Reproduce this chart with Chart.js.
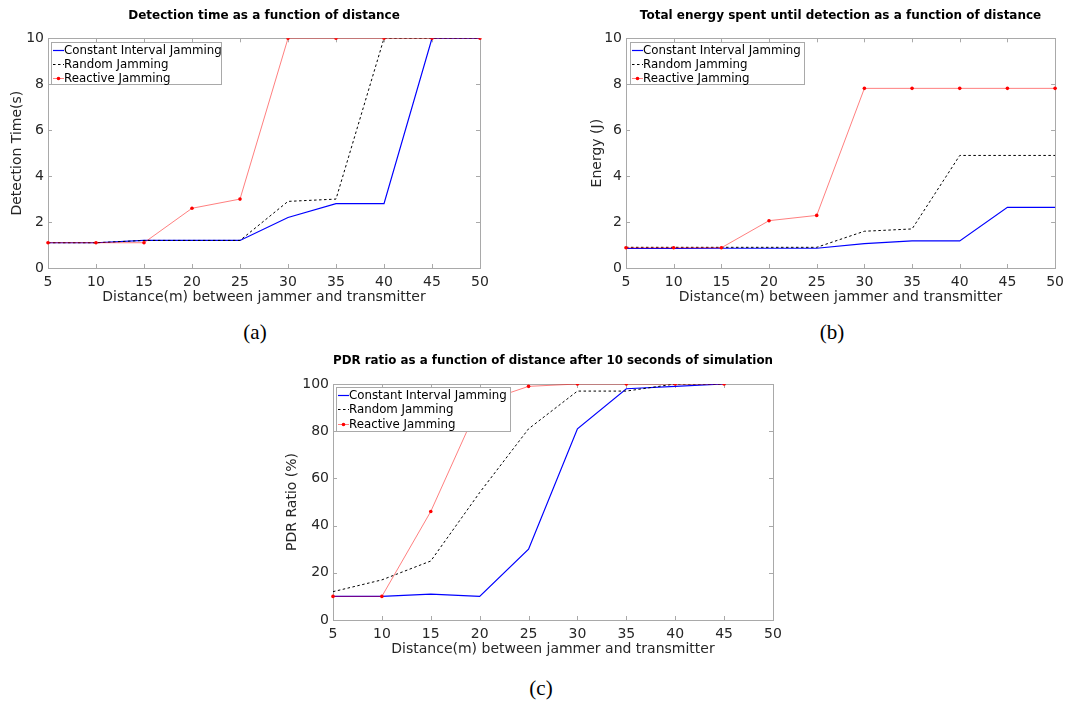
<!DOCTYPE html>
<html>
<head>
<meta charset="utf-8">
<script src="https://cdn.jsdelivr.net/npm/chart.js@4.4.1/dist/chart.umd.min.js"></script>
<style>
body { margin: 0; background: #fff; width: 1070px; height: 702px; position: relative; overflow: hidden; }
canvas { position: absolute; }
.cap { position: absolute; font-family: "Liberation Serif", serif; font-size: 21px; color: #000; transform: translate(-50%, -50%); }
</style>
</head>
<body>
<canvas id="chartA" width="500" height="310" style="left:0px;top:0px"></canvas>
<canvas id="chartB" width="510" height="310" style="left:560px;top:0px"></canvas>
<canvas id="chartC" width="530" height="322" style="left:270px;top:340px"></canvas>
<div class="cap" style="left:255px;top:332px">(a)</div>
<div class="cap" style="left:832px;top:332px">(b)</div>
<div class="cap" style="left:541px;top:688px">(c)</div>
<script>
// -----------------------------
// DATA
// -----------------------------
const distances = [5, 10, 15, 20, 25, 30, 35, 40, 45, 50];
const seriesNames = ["Constant Interval Jamming", "Random Jamming", "Reactive Jamming"];

// (a) detection time (s)
const timeConstant = [1.1, 1.1, 1.2, 1.2, 1.2, 2.2, 2.8, 2.8, 10, 10];
const timeRandom   = [1.1, 1.1, 1.2, 1.2, 1.2, 2.9, 3.0, 10, 10, 10];
const timeReactive = [1.1, 1.1, 1.1, 2.6, 3.0, 10, 10, 10, 10, 10];

// (b) energy (J)
const energyConstant = [0.85, 0.85, 0.86, 0.86, 0.86, 1.06, 1.18, 1.18, 2.64, 2.64];
const energyRandom   = [0.9, 0.9, 0.9, 0.9, 0.9, 1.6, 1.7, 4.9, 4.9, 4.9];
const energyReactive = [0.88, 0.88, 0.88, 2.06, 2.29, 7.82, 7.82, 7.82, 7.82, 7.82];

// (c) PDR ratio (%), measured up to 45 m
const pdrConstant = [10, 10, 11, 10, 30, 81, 98, 99, 100];
const pdrRandom   = [12, 17, 25, 54, 81, 97, 97, 100, 100];
const pdrReactive = [10, 10, 46, 92, 99, 100, 100, 100, 100];

const FONT = "DejaVu Sans";
const AXIS_GRAY = "#a9a9a9";
const TEXT = "#262626";

// box around the axes plus inward tick marks (matlab style)
const frame = {
    id: "frame",
    beforeDatasetsDraw(chart) {
        const { ctx, chartArea: a, scales } = chart;
        const x = scales.x, y = scales.y;
        ctx.save();
        ctx.strokeStyle = AXIS_GRAY;
        ctx.lineWidth = 1;
        ctx.beginPath();
        x.ticks.forEach((t, i) => {
            const px = Math.round(x.getPixelForTick(i)) + 0.5;
            ctx.moveTo(px, a.bottom); ctx.lineTo(px, a.bottom - 4);
            ctx.moveTo(px, a.top); ctx.lineTo(px, a.top + 4);
        });
        y.ticks.forEach((t, i) => {
            const py = Math.round(y.getPixelForTick(i)) + 0.5;
            ctx.moveTo(a.left, py); ctx.lineTo(a.left + 4, py);
            ctx.moveTo(a.right, py); ctx.lineTo(a.right - 4, py);
        });
        ctx.stroke();
        ctx.strokeRect(Math.round(a.left) + 0.5, Math.round(a.top) + 0.5,
            Math.round(a.right - a.left), Math.round(a.bottom - a.top));
        ctx.restore();
    }
};

// legend box drawn inside the plot, top-left
const boxLegend = {
    id: "boxLegend",
    afterDatasetsDraw(chart, args, opts) {
        const { ctx, chartArea: a } = chart;
        const x = Math.round(a.left + opts.x), y = Math.round(a.top + opts.y);
        ctx.save();
        ctx.fillStyle = "#fff";
        ctx.fillRect(x, y, opts.w, opts.h);
        ctx.strokeStyle = AXIS_GRAY;
        ctx.lineWidth = 1;
        ctx.strokeRect(x + 0.5, y + 0.5, opts.w, opts.h);
        ctx.font = "11.8px '" + FONT + "'";
        ctx.textBaseline = "middle";
        chart.data.datasets.forEach((ds, i) => {
            const ly = Math.round(y + opts.first + i * opts.row) + 0.5;
            ctx.strokeStyle = ds.borderColor;
            ctx.lineWidth = ds.borderWidth;
            ctx.setLineDash(ds.borderDash || []);
            ctx.beginPath();
            ctx.moveTo(x + 2, ly);
            ctx.lineTo(x + 13, ly);
            ctx.stroke();
            ctx.setLineDash([]);
            if (ds.pointRadius) {
                ctx.fillStyle = ds.pointBackgroundColor;
                ctx.beginPath();
                ctx.arc(x + 7.5, ly, ds.pointRadius, 0, Math.PI * 2);
                ctx.fill();
            }
            ctx.fillStyle = "#000";
            ctx.fillText(ds.label, x + 13, ly);
        });
        ctx.restore();
    }
};

function makeDatasets(constant, random, reactive) {
    return [{
        label: seriesNames[0],
        data: constant,
        borderColor: "#0000ff",
        borderWidth: 1.2,
        pointRadius: 0,
        order: 2
    }, {
        label: seriesNames[1],
        data: random,
        borderColor: "#000000",
        borderWidth: 1,
        borderDash: [2.5, 2.5],
        pointRadius: 0,
        order: 1
    }, {
        label: seriesNames[2],
        data: reactive,
        borderColor: "rgba(255,0,0,0.5)",
        borderWidth: 1,
        pointRadius: 1.8,
        pointBackgroundColor: "#ff0000",
        pointBorderWidth: 0,
        order: 0
    }];
}

function makeChart(id, title, yTitle, yMax, yStep, datasets, g) {
    return new Chart(document.getElementById(id), {
        type: "line",
        data: { labels: distances, datasets },
        plugins: [frame, boxLegend],
        options: {
            responsive: false,
            animation: false,
            devicePixelRatio: 1,
            layout: { padding: { left: 0, right: g.padRight, top: 0, bottom: 0 } },
            plugins: {
                legend: { display: false },
                tooltip: { enabled: false },
                title: {
                    display: true,
                    text: title,
                    fullSize: false,
                    color: "#000",
                    font: { family: FONT, size: 12, weight: "bold" },
                    padding: { top: g.titleTop, bottom: g.titleBottom }
                },
                boxLegend: g.legend
            },
            scales: {
                x: {
                    type: "category",
                    grid: { display: false, drawTicks: false },
                    border: { display: false },
                    ticks: { color: TEXT, font: { family: FONT, size: 14 }, padding: 6, maxRotation: 0, autoSkip: false },
                    title: {
                        display: true,
                        text: "Distance(m) between jammer and transmitter",
                        color: TEXT,
                        font: { family: FONT, size: 14 },
                        padding: { top: 0, bottom: 4 }
                    },
                    afterFit: s => { s.height = g.xHeight; }
                },
                y: {
                    min: 0,
                    max: yMax,
                    grid: { display: false, drawTicks: false },
                    border: { display: false },
                    ticks: { stepSize: yStep, color: TEXT, font: { family: FONT, size: 14 }, padding: 4 },
                    title: {
                        display: true,
                        text: yTitle,
                        color: TEXT,
                        font: { family: FONT, size: 14 },
                        padding: { top: g.yTitlePad, bottom: 0 }
                    },
                    afterFit: s => { s.width = g.yWidth; }
                }
            }
        }
    });
}

// -----------------------------
// (a) DETECTION TIME
// -----------------------------
makeChart("chartA", "Detection time as a function of distance", "Detection Time(s)", 10, 2,
    makeDatasets(timeConstant, timeRandom, timeReactive),
    { padRight: 20, titleTop: 8.5, titleBottom: 15.4, xHeight: 42, yWidth: 48, yTitlePad: 8.6,
      legend: { x: 3, y: 4, w: 170, h: 42, first: 8, row: 14 } });

// -----------------------------
// (b) ENERGY
// -----------------------------
makeChart("chartB", "Total energy spent until detection as a function of distance", "Energy (J)", 10, 2,
    makeDatasets(energyConstant, energyRandom, energyReactive),
    { padRight: 12, titleTop: 8.5, titleBottom: 15.4, xHeight: 42, yWidth: 66, yTitlePad: 28.6,
      legend: { x: 4, y: 4, w: 174, h: 42, first: 8, row: 14 } });

// -----------------------------
// (c) PDR RATIO
// -----------------------------
makeChart("chartC", "PDR ratio as a function of distance after 10 seconds of simulation", "PDR Ratio (%)", 100, 20,
    makeDatasets(pdrConstant, pdrRandom, pdrReactive),
    { padRight: 27, titleTop: 13.5, titleBottom: 16.1, xHeight: 42, yWidth: 63, yTitlePad: 14,
      legend: { x: 3, y: 3, w: 174, h: 44, first: 8, row: 14.3 } });
</script>
</body>
</html>
